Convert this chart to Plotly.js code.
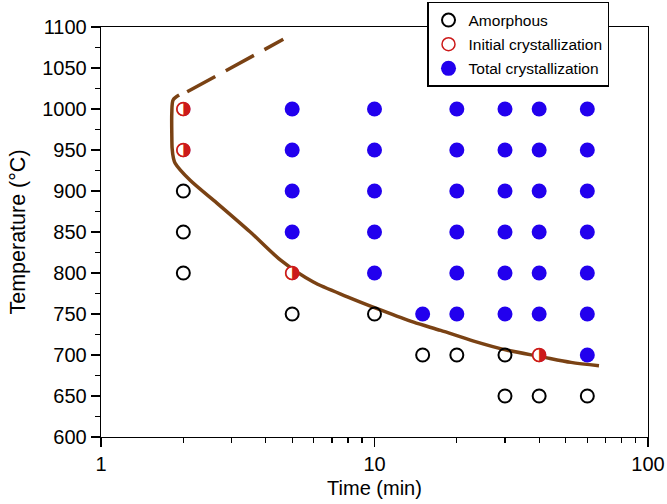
<!DOCTYPE html>
<html><head><meta charset="utf-8">
<script src="https://cdn.plot.ly/plotly-3.0.1.min.js"></script>
<style>html,body{margin:0;padding:0;background:#fff}</style>
</head><body><div id="chart" style="width:667px;height:504px"></div>
<script>
// Amorphous (open black circles)
const amorphTime = [2, 2, 2, 5, 10, 15, 20, 30, 30, 40, 60];
const amorphTemp = [900, 850, 800, 750, 750, 700, 700, 700, 650, 650, 650];
// Initial crystallization (half-filled red)
const initTime = [2, 2, 5, 40];
const initTemp = [1000, 950, 800, 700];
// Total crystallization (filled blue)
const totalTime = [5,5,5,5, 10,10,10,10,10, 15, 20,20,20,20,20,20, 30,30,30,30,30,30, 40,40,40,40,40,40, 60,60,60,60,60,60,60];
const totalTemp = [1000,950,900,850, 1000,950,900,850,800, 750, 1000,950,900,850,800,750, 1000,950,900,850,800,750, 1000,950,900,850,800,750, 1000,950,900,850,800,750,700];
// Boundary curve (solid) and its extrapolation (dashed)
const curveTime = [1.93, 1.835, 1.815, 1.815, 1.82, 1.84, 1.866, 2.118, 2.66, 3.514, 4.525, 5.977, 7.96, 10.52, 13.9, 17.45, 23.05, 30.4, 40.6, 52.3, 66.2];
const curveTemp = [1017, 1011, 995, 970, 952, 940, 934, 913, 885, 850, 816, 789, 771, 755, 740, 730, 717, 706, 698, 691, 687];
const dashTime = [2.066, 4.64];
const dashTemp = [1021, 1085];

const brown = '#7a4214';
const red = '#cc1a1a';
const blue = '#2200ee';

const traces = [
  {x: curveTime, y: curveTemp, mode: 'lines', line: {color: brown, width: 3.5, shape: 'spline', smoothing: 0.8}, showlegend: false, hoverinfo: 'skip'},
  {x: dashTime, y: dashTemp, mode: 'lines', line: {color: brown, width: 3.5, dash: '32px,12px'}, showlegend: false, hoverinfo: 'skip'},
  {x: amorphTime, y: amorphTemp, mode: 'markers', name: 'Amorphous', legendgroup: 'a',
   marker: {symbol: 'circle', size: 13, color: 'rgba(255,255,255,0)', line: {color: '#000', width: 2}}},
  {x: initTime, y: initTemp, mode: 'markers', name: 'Initial crystallization', legendgroup: 'b',
   marker: {symbol: 'circle', size: 13, color: '#fff', line: {color: red, width: 1.5}}},
  {x: initTime, y: initTemp, mode: 'text', text: initTime.map(() => '\u25D1'), textposition: 'middle center',
   textfont: {family: 'DejaVu Sans', size: 18, color: red}, showlegend: false, hoverinfo: 'skip'},
  {x: totalTime, y: totalTemp, mode: 'markers', name: 'Total crystallization', legendgroup: 'c',
   marker: {symbol: 'circle', size: 15, color: blue, line: {width: 0}}}
];

const layout = {
  width: 667, height: 504,
  margin: {l: 101, r: 19, t: 27, b: 67, autoexpand: false},
  paper_bgcolor: '#fff', plot_bgcolor: '#fff',
  font: {family: 'Liberation Sans, Arial, sans-serif', color: '#000'},
  showlegend: true,
  legend: {x: 0.596, y: 1.061, xanchor: 'left', yanchor: 'top',
    bgcolor: '#fff', bordercolor: '#000', borderwidth: 1.5,
    font: {size: 15.5, color: '#000'}, traceorder: 'grouped', tracegroupgap: 1, itemwidth: 30},
  xaxis: {type: 'log', range: [0, 2], tickvals: [1, 10, 100], ticktext: ['1', '10', '100'],
    ticks: 'outside', ticklen: 9, tickwidth: 1.3, tickcolor: '#000',
    minor: {ticks: 'outside', ticklen: 5, tickwidth: 1.3, tickcolor: '#000', tickvals: [2,3,4,5,6,7,8,9,20,30,40,50,60,70,80,90]},
    showline: true, linecolor: '#000', linewidth: 1.3, mirror: true, showgrid: false, zeroline: false,
    tickfont: {size: 20}, title: {text: 'Time (min)', font: {size: 20}, standoff: 6}},
  yaxis: {range: [600, 1100], dtick: 50, ticks: 'outside', ticklen: 9, tickwidth: 1.3, tickcolor: '#000',
    minor: {ticks: 'outside', ticklen: 5, tickwidth: 1.3, tickcolor: '#000', dtick: 25},
    showline: true, linecolor: '#000', linewidth: 1.3, mirror: true, showgrid: false, zeroline: false,
    tickfont: {size: 20}, title: {text: 'Temperature (°C)', font: {size: 21.5}, standoff: 10}}
};

Plotly.newPlot('chart', traces, layout, {displayModeBar: false, staticPlot: true});
</script></body></html>
